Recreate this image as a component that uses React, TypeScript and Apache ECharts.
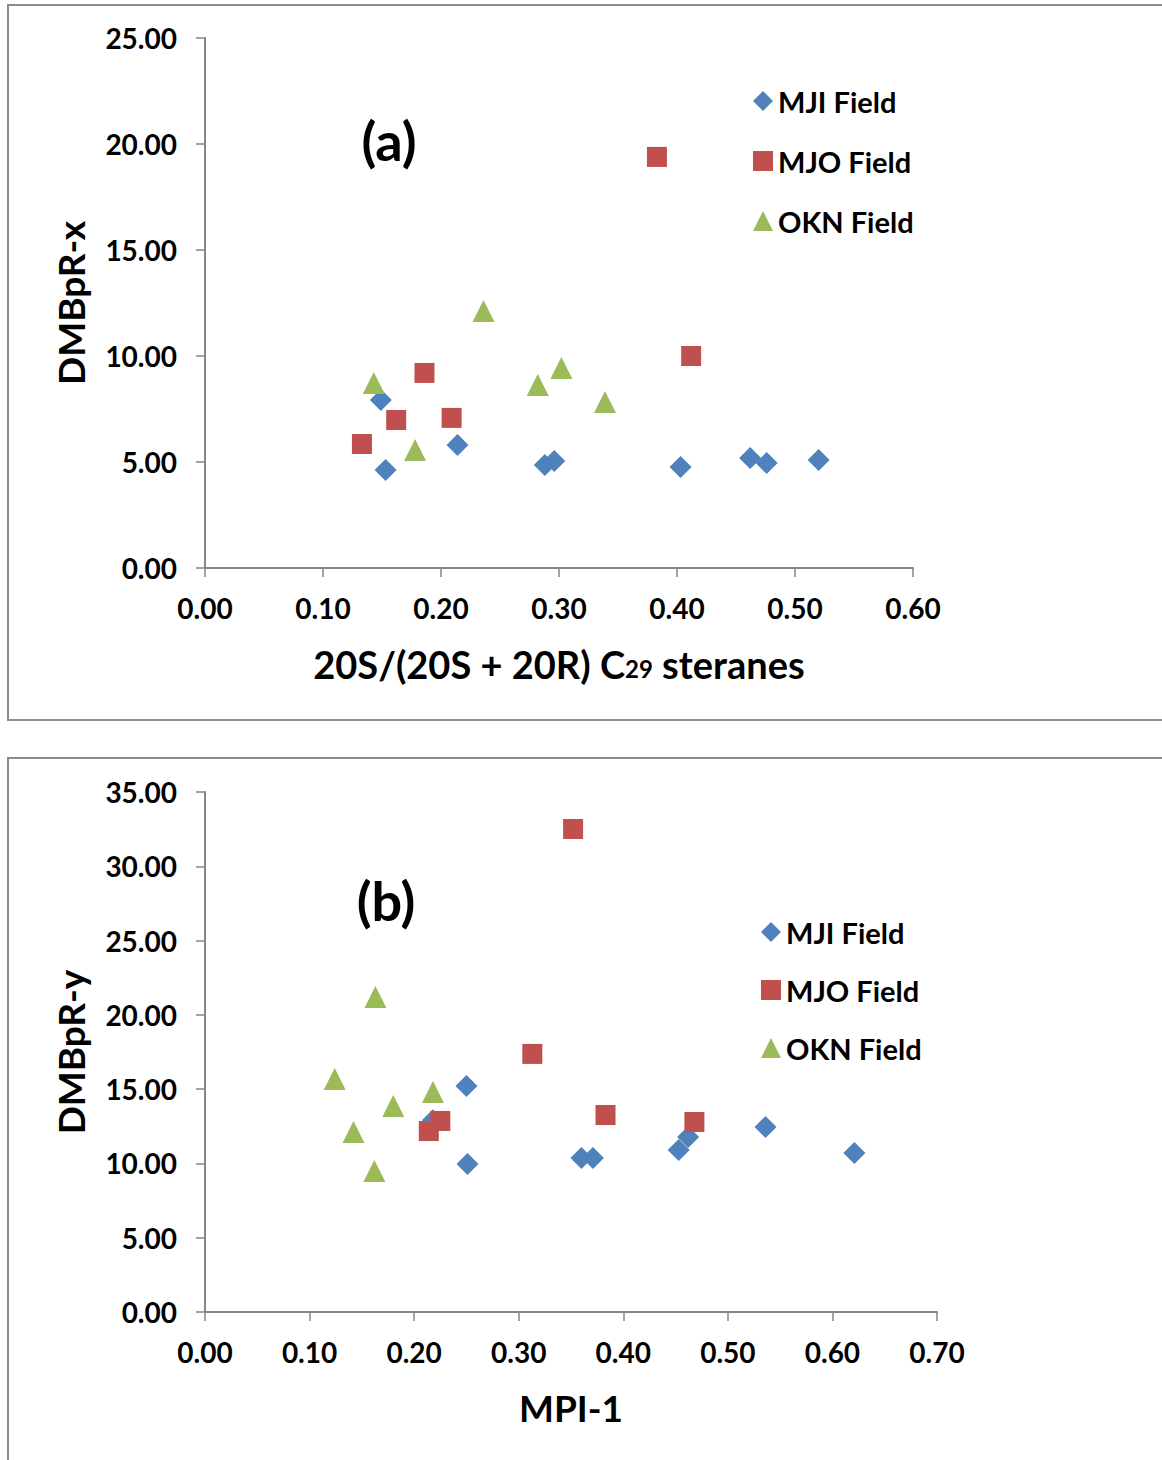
import React, { useEffect, useRef } from "react";
import * as echarts from "echarts";

// Chart (a): 20S/(20S+20R) C29 steranes vs DMBpR-x
const mjiA: number[][] = [
  [0.149, 7.92], [0.153, 4.62], [0.214, 5.8], [0.288, 4.86], [0.296, 5.05],
  [0.403, 4.76], [0.462, 5.19], [0.476, 4.95], [0.52, 5.09],
];
const mjoA: number[][] = [
  [0.133, 5.85], [0.162, 6.98], [0.186, 9.2], [0.209, 7.08], [0.383, 19.39], [0.412, 10.0],
];
const oknA: number[][] = [
  [0.143, 8.73], [0.178, 5.57], [0.236, 12.12], [0.282, 8.63], [0.302, 9.43], [0.339, 7.83],
];

// Chart (b): MPI-1 vs DMBpR-y
const mjiB: number[][] = [
  [0.218, 12.9], [0.25, 15.21], [0.251, 9.96], [0.36, 10.37], [0.371, 10.37],
  [0.453, 10.9], [0.462, 11.78], [0.536, 12.45], [0.621, 10.7],
];
const mjoB: number[][] = [
  [0.352, 32.51], [0.313, 17.37], [0.383, 13.26], [0.468, 12.79], [0.225, 12.86], [0.214, 12.18],
];
const oknB: number[][] = [
  [0.163, 21.2], [0.124, 15.68], [0.218, 14.81], [0.18, 13.87], [0.142, 12.12], [0.162, 9.49],
];

const seriesNames = ["MJI Field", "MJO Field", "OKN Field"];
const colors = ["#4F81BD", "#C0504D", "#9BBB59"];
const symbols = ["diamond", "rect", "triangle"];
const sizes = [22, 20, 22];

const FONT = "Lato, 'Open Sans', sans-serif";
const AXIS_COLOR = "#868686";

function axisCommon() {
  return {
    axisLine: { show: true, lineStyle: { color: AXIS_COLOR, width: 2 } },
    axisTick: { show: true, inside: false, length: 9, lineStyle: { color: AXIS_COLOR, width: 1.5 } },
    splitLine: { show: false },
    axisLabel: {
      color: "#000",
      fontFamily: FONT,
      fontWeight: "bold" as const,
      fontSize: 28,
      formatter: (v: number) => v.toFixed(2),
    },
  };
}

export default function App() {
  const ref = useRef<HTMLDivElement>(null);
  useEffect(() => {
    if (!ref.current) return;
    const chart = echarts.init(ref.current, undefined, { renderer: "svg" });
    const dataA = [mjiA, mjoA, oknA];
    const dataB = [mjiB, mjoB, oknB];
    const series: any[] = [];
    [dataA, dataB].forEach((set, gi) => {
      set.forEach((d, i) => {
        series.push({
          type: "scatter",
          name: seriesNames[i],
          xAxisIndex: gi,
          yAxisIndex: gi,
          data: d,
          symbol: symbols[i],
          symbolSize: sizes[i],
          itemStyle: { color: colors[i], opacity: 1 },
        });
      });
    });
    const legendText = {
      color: "#000",
      fontFamily: FONT,
      fontWeight: "bold" as const,
      fontSize: 29,
      lineHeight: 30,
    };
    const nameStyle = { fontFamily: FONT, fontWeight: "bold", fontSize: 37, color: "#000" };
    chart.setOption({
      animation: false,
      backgroundColor: "#fff",
      grid: [
        { left: 205, top: 38, width: 708, height: 530 },
        { left: 205, top: 792, width: 732, height: 520 },
      ],
      xAxis: [
        {
          ...axisCommon(),
          gridIndex: 0,
          type: "value",
          min: 0,
          max: 0.6,
          interval: 0.1,
          axisLabel: { ...axisCommon().axisLabel, margin: 26 },
          name: "{a|20S/(20S + 20R) C}{s|29}{a| steranes}",
          nameLocation: "middle",
          nameGap: 77,
          nameTextStyle: {
            rich: {
              a: { fontFamily: FONT, fontWeight: "bold", fontSize: 38, color: "#000" },
              s: { fontFamily: FONT, fontWeight: "bold", fontSize: 24, color: "#000", padding: [9, 0, 0, 0] },
            },
          },
        },
        {
          ...axisCommon(),
          gridIndex: 1,
          type: "value",
          min: 0,
          max: 0.7,
          interval: 0.1,
          axisLabel: { ...axisCommon().axisLabel, margin: 26 },
          name: "MPI-1",
          nameLocation: "middle",
          nameGap: 77,
          nameTextStyle: nameStyle,
        },
      ],
      yAxis: [
        {
          ...axisCommon(),
          gridIndex: 0,
          type: "value",
          min: 0,
          max: 25,
          interval: 5,
          axisLabel: { ...axisCommon().axisLabel, margin: 28 },
          name: "DMBpR-x",
          nameLocation: "middle",
          nameGap: 116,
          nameTextStyle: nameStyle,
        },
        {
          ...axisCommon(),
          gridIndex: 1,
          type: "value",
          min: 0,
          max: 35,
          interval: 5,
          axisLabel: { ...axisCommon().axisLabel, margin: 28 },
          name: "DMBpR-y",
          nameLocation: "middle",
          nameGap: 116,
          nameTextStyle: nameStyle,
        },
      ],
      legend: [
        {
          orient: "vertical",
          left: 748,
          top: 81,
          itemWidth: 20,
          itemHeight: 20,
          itemGap: 30,
          data: seriesNames,
          textStyle: legendText,
          selectedMode: false,
        },
        {
          orient: "vertical",
          left: 756,
          top: 912,
          itemWidth: 20,
          itemHeight: 20,
          itemGap: 28,
          data: seriesNames,
          textStyle: legendText,
          selectedMode: false,
        },
      ],
      graphic: [
        {
          type: "rect",
          shape: { x: 8, y: 5, width: 1200, height: 715 },
          style: { fill: "none", stroke: "#8c8c8c", lineWidth: 2 },
          z: -1,
        },
        {
          type: "rect",
          shape: { x: 8, y: 758, width: 1200, height: 800 },
          style: { fill: "none", stroke: "#8c8c8c", lineWidth: 2 },
          z: -1,
        },
        {
          type: "text",
          x: 389,
          y: 140,
          style: {
            text: "(a)",
            fontFamily: FONT,
            fontWeight: "bold",
            fontSize: 54,
            fill: "#000",
            align: "center",
            verticalAlign: "middle",
          },
        },
        {
          type: "text",
          x: 386,
          y: 900,
          style: {
            text: "(b)",
            fontFamily: FONT,
            fontWeight: "bold",
            fontSize: 54,
            fill: "#000",
            align: "center",
            verticalAlign: "middle",
          },
        },
      ],
      series,
    });
    return () => chart.dispose();
  }, []);
  return (
    <div
      ref={ref}
      style={{ position: "absolute", left: 0, top: 0, width: 1162, height: 1460 }}
    />
  );
}
